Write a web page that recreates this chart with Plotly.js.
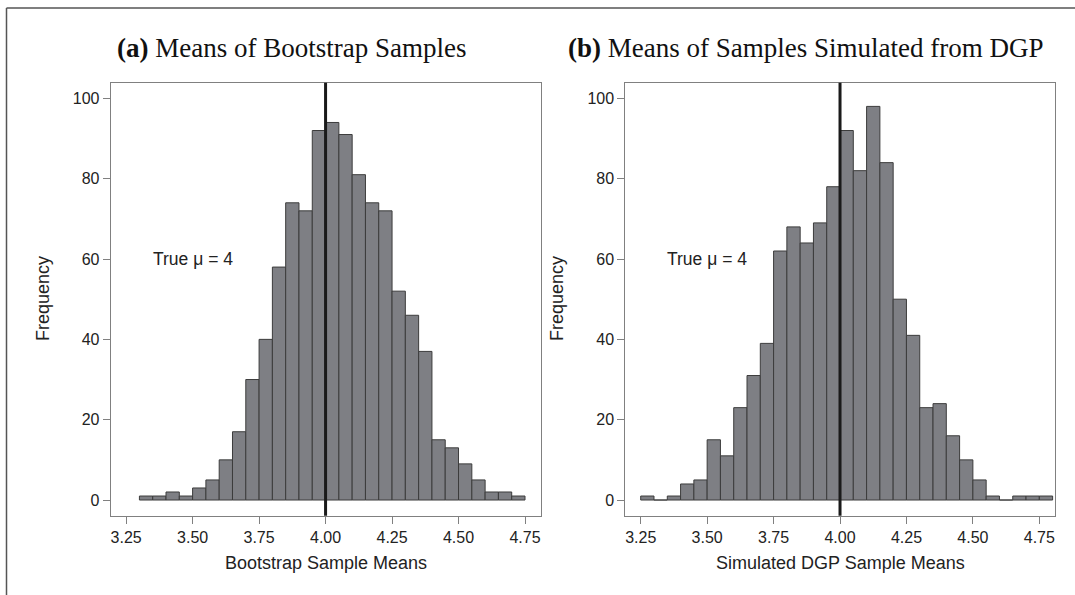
<!DOCTYPE html>
<html>
<head>
<meta charset="utf-8">
<script src="https://cdn.plot.ly/plotly-3.0.1.min.js"></script>
<style>html,body{margin:0;padding:0;background:#fff;}#chart{width:1075px;height:595px;}</style>
</head>
<body>
<div id="chart"></div>
<script>
// Panel (a): bootstrap sample means, bins of width 0.05 starting at 3.30
const binWidth = 0.05;
const binStartA = 3.30;
const countsA = [1, 1, 2, 1, 3, 5, 10, 17, 30, 40, 58, 74, 72, 92, 94, 91, 81, 74, 72, 52, 46, 37, 15, 13, 9, 5, 2, 2, 1];
// Panel (b): simulated DGP sample means, bins of width 0.05 starting at 3.25
const binStartB = 3.25;
const countsB = [1, 0, 1, 4, 5, 15, 11, 23, 31, 39, 62, 68, 64, 69, 78, 92, 82, 98, 84, 50, 41, 23, 24, 16, 10, 5, 1, 0, 1, 1, 1];
const trueMu = 4;
const xTicks = [3.25, 3.50, 3.75, 4.00, 4.25, 4.50, 4.75];
const xTickText = ["3.25", "3.50", "3.75", "4.00", "4.25", "4.50", "4.75"];
const yTicks = [0, 20, 40, 60, 80, 100];
const titleA = "<b>(a)</b> Means of Bootstrap Samples";
const titleB = "<b>(b)</b> Means of Samples Simulated from DGP";
const xTitleA = "Bootstrap Sample Means";
const xTitleB = "Simulated DGP Sample Means";
const yTitle = "Frequency";
const muLabel = "True \u03bc = 4";

const W = 1075, H = 595;
const px = v => v / W;
const py = v => 1 - v / H;

function centers(start, n) {
  const out = [];
  for (let i = 0; i < n; i++) out.push(+(start + binWidth * (i + 0.5)).toFixed(4));
  return out;
}

const barStyle = {color: '#7e7f84', line: {color: '#3c3c3c', width: 1}};
const traces = [
  {type: 'bar', x: centers(binStartA, countsA.length), y: countsA, width: binWidth,
   marker: barStyle, xaxis: 'x', yaxis: 'y', hoverinfo: 'x+y'},
  {type: 'bar', x: centers(binStartB, countsB.length), y: countsB, width: binWidth,
   marker: barStyle, xaxis: 'x2', yaxis: 'y2', hoverinfo: 'x+y'}
];

const tickFont = {family: 'Liberation Sans, Arial, sans-serif', size: 16, color: '#222'};
function xAxis(domain, anchor) {
  return {domain: domain, anchor: anchor, range: [3.192, 4.809], tickvals: xTicks, ticktext: xTickText,
    ticks: 'outside', ticklen: 7, tickcolor: '#808080', tickwidth: 1,
    showline: true, mirror: true, linecolor: '#808080', linewidth: 1,
    showgrid: false, zeroline: false, tickfont: tickFont, fixedrange: true};
}
function yAxis(anchor) {
  return {domain: [py(515.7), py(82.7)], anchor: anchor, range: [-3.9, 103.9], tickvals: yTicks,
    ticks: 'outside', ticklen: 7, tickcolor: '#808080', tickwidth: 1,
    showline: true, mirror: true, linecolor: '#808080', linewidth: 1,
    showgrid: false, zeroline: false, tickfont: tickFont, fixedrange: true};
}

const serif = {family: 'Liberation Serif, Times New Roman, serif', size: 27, color: '#111'};
const sansTitle = {family: 'Liberation Sans, Arial, sans-serif', size: 18, color: '#222'};
const sansMu = {family: 'Liberation Sans, Arial, sans-serif', size: 17.5, color: '#222'};

const layout = {
  width: W, height: H,
  margin: {l: 0, r: 0, t: 0, b: 0},
  paper_bgcolor: '#fff', plot_bgcolor: '#fff',
  showlegend: false, bargap: 0,
  xaxis: xAxis([px(110.7), px(540.7)], 'y'),
  yaxis: yAxis('x'),
  xaxis2: xAxis([px(625.3), px(1055)], 'y2'),
  yaxis2: yAxis('x2'),
  shapes: [
    {type: 'line', xref: 'x', yref: 'y domain', x0: trueMu, x1: trueMu, y0: 0, y1: 1, line: {color: '#1a1a1a', width: 3}},
    {type: 'line', xref: 'x2', yref: 'y2 domain', x0: trueMu, x1: trueMu, y0: 0, y1: 1, line: {color: '#1a1a1a', width: 3}},
    {type: 'line', xref: 'paper', yref: 'paper', x0: px(6.5), x1: 1, y0: py(8), y1: py(8), line: {color: '#555', width: 1.5}},
    {type: 'line', xref: 'paper', yref: 'paper', x0: px(6.5), x1: px(6.5), y0: py(8), y1: 0, line: {color: '#555', width: 1.5}}
  ],
  annotations: [
    {text: titleA, xref: 'paper', yref: 'paper', x: px(291), y: py(48), xanchor: 'center', yanchor: 'middle', showarrow: false, font: serif},
    {text: titleB, xref: 'paper', yref: 'paper', x: px(805), y: py(48), xanchor: 'center', yanchor: 'middle', showarrow: false, font: serif},
    {text: xTitleA, xref: 'paper', yref: 'paper', x: px(325.7), y: py(563), xanchor: 'center', yanchor: 'middle', showarrow: false, font: sansTitle},
    {text: xTitleB, xref: 'paper', yref: 'paper', x: px(840), y: py(563), xanchor: 'center', yanchor: 'middle', showarrow: false, font: sansTitle},
    {text: yTitle, xref: 'paper', yref: 'paper', x: px(43), y: py(299), xanchor: 'center', yanchor: 'middle', textangle: -90, showarrow: false, font: sansTitle},
    {text: yTitle, xref: 'paper', yref: 'paper', x: px(557), y: py(299), xanchor: 'center', yanchor: 'middle', textangle: -90, showarrow: false, font: sansTitle},
    {text: muLabel, xref: 'x', yref: 'y', x: 3.5, y: 60, xanchor: 'center', yanchor: 'middle', showarrow: false, font: sansMu},
    {text: muLabel, xref: 'x2', yref: 'y2', x: 3.5, y: 60, xanchor: 'center', yanchor: 'middle', showarrow: false, font: sansMu}
  ]
};

Plotly.newPlot('chart', traces, layout, {staticPlot: true, displayModeBar: false});
</script>
</body>
</html>
